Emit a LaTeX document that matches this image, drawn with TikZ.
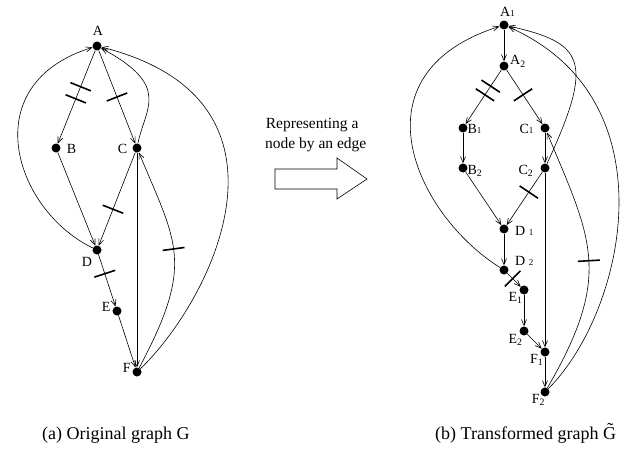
\documentclass[tikz,border=0pt]{standalone}
\usepackage{fontspec}
\setmainfont{Liberation Serif}
\usetikzlibrary{arrows.meta,decorations.markings}
\tikzset{
  dot/.style={circle,fill=black,minimum size=9pt,inner sep=0pt},
  lbl/.style={anchor=base west,inner sep=0pt,font=\fontsize{14}{14}\selectfont},
  edge/.style={line width=0.6pt,-{Straight Barb[length=6pt,width=5pt]}},
  tk/.style={postaction={decorate},decoration={markings,mark=at position #1 with {\draw[line width=1.6pt,-] (0,-11pt)--(0,11pt);}}},
  tktwo/.style 2 args={postaction={decorate},decoration={markings,
     mark=at position #1 with {\draw[line width=1.6pt,-] (0,-11pt)--(0,11pt);},
     mark=at position #2 with {\draw[line width=1.6pt,-] (0,-11pt)--(0,11pt);}}},
  txt/.style={anchor=base west,inner sep=0pt,font=\fontsize{15.5}{15.5}\selectfont},
  captxt/.style={anchor=base west,inner sep=0pt,font=\fontsize{18}{18}\selectfont},
}
\newcommand{\sm}[1]{{\fontsize{9}{9}\selectfont #1}}
\begin{document}
\begin{tikzpicture}[x=1pt,y=-1pt]
\useasboundingbox (0,0) rectangle (629,452);
% ---------- left graph ----------
\node[dot] (A) at (97,46) {};
\node[dot] (B) at (56,148) {};
\node[dot] (C) at (137,148) {};
\node[dot] (D) at (97,250) {};
\node[dot] (E) at (117,311) {};
\node[dot] (F) at (137,372) {};
\node[lbl] (lA) at (92.7,36) {A};
\node[lbl] (lB) at (66.7,153.3) {B};
\node[lbl] (lC) at (117.7,153.3) {C};
\node[lbl] (lD) at (81.7,266) {D};
\node[lbl] (lE) at (101.7,311.7) {E};
\node[lbl] (lF) at (122.7,372.7) {F};
\draw[edge,tktwo={0.39}{0.52}] (A) -- (B);
\draw[edge,tk=0.5] (A) -- (C);
\draw[edge] (B) -- (D);
\draw[edge,tk=0.61] (C) -- (D);
\draw[edge,tk=0.37] (D) -- (E);
\draw[edge] (E) -- (F);
\draw[edge] (C) -- (F);
\draw[edge] (C) .. controls (145,108) and (172,86) .. (A);
\draw[edge] (D) .. controls (14,210) and (-26,84) .. (A);
\draw[edge,tk=0.55] (F) .. controls (195,263) and (177,244) .. (C);
\draw[edge] (F) .. controls (212,300) and (312,100) .. (A);
% ---------- middle ----------
\node[txt] (t1) at (265.7,128.3) {Representing a};
\node[txt] (t2) at (265,148.3) {node by an edge};
\draw[line width=0.6pt] (275,169) -- (337,169) -- (337,158) -- (367,179) -- (337,199) -- (337,189) -- (275,189) -- cycle;
% ---------- right graph ----------
\node[dot] (A1) at (504,25) {};
\node[dot] (A2) at (504,66) {};
\node[dot] (B1) at (463,128) {};
\node[dot] (C1) at (545,128) {};
\node[dot] (B2) at (463,168) {};
\node[dot] (C2) at (545,168) {};
\node[dot] (D1) at (504,229) {};
\node[dot] (D2) at (504,270) {};
\node[dot] (E1) at (524,290) {};
\node[dot] (E2) at (524,331) {};
\node[dot] (F1) at (545,352) {};
\node[dot] (F2) at (545,392) {};
\node[lbl] (lA1) at (500,16.7) {A\sm{1}};
\node[lbl] (lA2) at (510,65) {A\textsubscript{2}};
\node[lbl] (lB1) at (467.3,133.3) {B\sm{1}};
\node[lbl] (lC1) at (519.3,133.3) {C\sm{1}};
\node[lbl] (lB2) at (467.3,174) {B\textsubscript{2}};
\node[lbl] (lC2) at (518.3,174) {C\textsubscript{2}};
\node[lbl] (lD1) at (515,235) {D \sm{1}};
\node[lbl] (lD2) at (515,265) {D \sm{2}};
\node[lbl] (lE1) at (508.3,301.7) {E\textsubscript{1}};
\node[lbl] (lE2) at (508.3,343.3) {E\textsubscript{2}};
\node[lbl] (lF1) at (530,363.3) {F\textsubscript{1}};
\node[lbl] (lF2) at (531.7,403.3) {F\textsubscript{2}};
\draw[edge] (A1) -- (A2);
\draw[edge,tktwo={0.3}{0.46}] (A2) -- (B1);
\draw[edge,tk=0.46] (A2) -- (C1);
\draw[edge] (B1) -- (B2);
\draw[edge] (C1) -- (C2);
\draw[edge] (B2) -- (D1);
\draw[edge,tk=0.38] (C2) -- (D1);
\draw[edge] (D1) -- (D2);
\draw[edge,tk=0.4] (D2) -- (E1);
\draw[edge] (E1) -- (E2);
\draw[edge] (E2) -- (F1);
\draw[edge] (C2) -- (F1);
\draw[edge] (F1) -- (F2);
\draw[edge] (D2) .. controls (416,215) and (350,74) .. (A1);
\draw[edge] (C2) .. controls (595,60) and (584,43) .. (A1);
\draw[edge,tk=0.5] (F2) .. controls (613,275) and (592,240) .. (C1);
\draw[edge] (F2) .. controls (625,312) and (673,99) .. (A1);
% ---------- captions ----------
\node[captxt] (capa) at (42,439) {(a) Original graph G};
\node[captxt] (capb) at (435,439) {(b) Transformed graph \~G};
\end{tikzpicture}
\end{document}
